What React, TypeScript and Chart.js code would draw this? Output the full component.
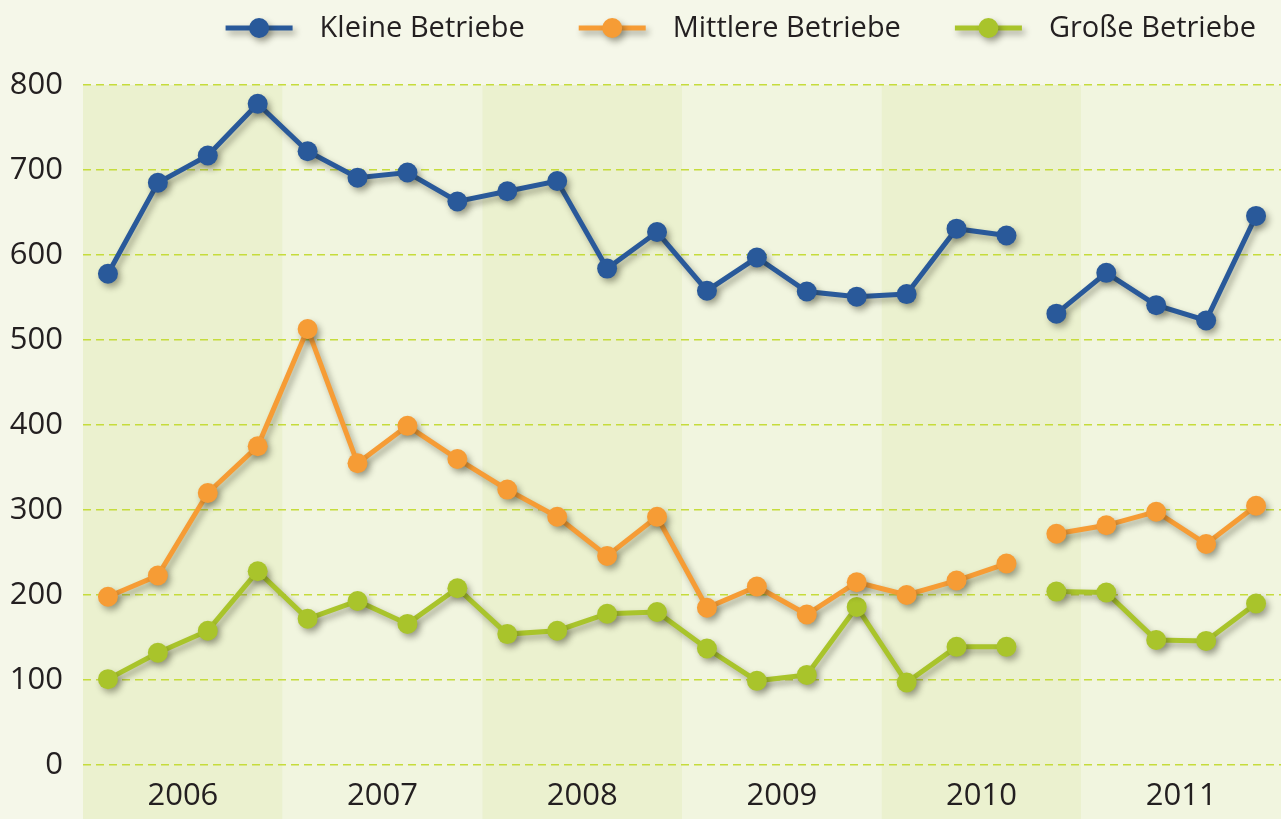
import React, { useEffect, useRef } from "react";
import { Chart, registerables } from "chart.js";

Chart.register(...registerables);

const years = ["2006", "2007", "2008", "2009", "2010", "2011"];
const quarters = ["Q1", "Q2", "Q3", "Q4"];
const categories = years.flatMap((y) => quarters.map((q) => `${y} ${q}`));

const kleine = [578, 685, 717, 778, 722, 691, 697, 663, 675, 687, 584, 627, 558, 597, 557, 551, 554, 631, 623, 531, 579, 541, 523, 646];
const mittlere = [198, 223, 320, 375, 513, 355, 399, 360, 324, 292, 246, 292, 185, 210, 177, 215, 200, 217, 237, 272, 282, 298, 260, 305];
const grosse = [101, 132, 158, 228, 172, 193, 166, 208, 154, 158, 178, 180, 137, 99, 106, 186, 97, 139, 139, 204, 203, 147, 146, 190];

const seriesNames = ["Kleine Betriebe", "Mittlere Betriebe", "Große Betriebe"];
const seriesColors = ["#29599a", "#f69c35", "#a9c42b"];
const breakAfterIndex = 18;

const yTicks = [0, 100, 200, 300, 400, 500, 600, 700, 800];

const FONT = "'Open Sans', sans-serif";

const bgPlugin = {
  id: "bgBands",
  beforeDraw(chart: any) {
    const { ctx, chartArea, scales } = chart;
    ctx.save();
    ctx.fillStyle = "#f5f7e9";
    ctx.fillRect(0, 0, chart.width, chart.height);
    const xs = scales.x;
    const step = xs.getPixelForValue(1) - xs.getPixelForValue(0);
    years.forEach((_, i) => {
      const x0 = xs.getPixelForValue(i * 4) - step / 2;
      ctx.fillStyle = i % 2 === 0 ? "#ebf1cf" : "#f1f5df";
      ctx.fillRect(x0, chartArea.top, step * 4, chart.height - chartArea.top);
    });
    ctx.restore();
  },
};

const shadowPlugin = {
  id: "shadow",
  beforeDatasetsDraw(chart: any) {
    const ctx = chart.ctx;
    ctx.save();
    ctx.shadowColor = "rgba(40,40,20,0.38)";
    ctx.shadowBlur = 6;
    ctx.shadowOffsetX = 3;
    ctx.shadowOffsetY = 4;
  },
  afterDatasetsDraw(chart: any) {
    chart.ctx.restore();
  },
};

const legendPlugin = {
  id: "customLegend",
  afterDraw(chart: any) {
    const ctx = chart.ctx;
    ctx.save();
    ctx.font = `29px ${FONT}`;
    ctx.textBaseline = "middle";
    const lineLen = 67;
    const gap = 27;
    const spacing = 54;
    const y = 28;
    const widths = chart.data.datasets.map((d: any) => ctx.measureText(d.label).width);
    let total = 0;
    widths.forEach((w: number, i: number) => {
      total += lineLen + gap + w + (i > 0 ? spacing : 0);
    });
    let x = 1256 - total;
    chart.data.datasets.forEach((d: any, i: number) => {
      if (i > 0) x += spacing;
      ctx.save();
      ctx.shadowColor = "rgba(40,40,20,0.38)";
      ctx.shadowBlur = 6;
      ctx.shadowOffsetX = 3;
      ctx.shadowOffsetY = 4;
      ctx.strokeStyle = d.borderColor;
      ctx.lineWidth = 5;
      ctx.beginPath();
      ctx.moveTo(x, y);
      ctx.lineTo(x + lineLen, y);
      ctx.stroke();
      ctx.fillStyle = d.borderColor;
      ctx.beginPath();
      ctx.arc(x + lineLen / 2, y, 10, 0, Math.PI * 2);
      ctx.fill();
      ctx.restore();
      x += lineLen + gap;
      ctx.fillStyle = "#231f20";
      ctx.textAlign = "left";
      ctx.fillText(d.label, x, y + 1);
      x += widths[i];
    });
    ctx.restore();
  },
};

export default function App() {
  const ref = useRef<HTMLCanvasElement | null>(null);

  useEffect(() => {
    if (!ref.current) return;
    const mk = (label: string, data: number[], color: string) => ({
      label,
      data,
      borderColor: color,
      backgroundColor: color,
      pointBackgroundColor: color,
      pointBorderWidth: 0,
      pointRadius: 10,
      borderWidth: 5,
      tension: 0,
      fill: false,
      clip: false,
      segment: {
        borderColor: (c: any) => (c.p0DataIndex === breakAfterIndex ? "rgba(0,0,0,0)" : undefined),
      },
    });
    const chart = new Chart(ref.current, {
      type: "line",
      data: {
        labels: categories,
        datasets: [
          mk(seriesNames[0], kleine, seriesColors[0]),
          mk(seriesNames[1], mittlere, seriesColors[1]),
          mk(seriesNames[2], grosse, seriesColors[2]),
        ],
      },
      options: {
        responsive: false,
        animation: false,
        devicePixelRatio: 1,
        layout: { autoPadding: false, padding: { top: 85, right: 0, left: 0, bottom: 0 } },
        plugins: {
          legend: { display: false },
          tooltip: { enabled: false },
        },
        scales: {
          x: {
            type: "category",
            offset: true,
            grid: { display: false, drawTicks: false },
            border: { display: false },
            afterFit: (s: any) => {
              s.height = 54;
              s.paddingLeft = 0;
              s.paddingRight = 0;
            },
            ticks: {
              autoSkip: false,
              maxRotation: 0,
              minRotation: 0,
              padding: 13,
              labelOffset: 25,
              color: "#231f20",
              font: { family: FONT, size: 31 },
              callback: (_v: any, i: number) => (i % 4 === 1 ? years[Math.floor(i / 4)] : ""),
            },
          },
          y: {
            min: yTicks[0],
            max: yTicks[yTicks.length - 1],
            afterFit: (s: any) => {
              s.width = 83;
            },
            afterBuildTicks: (s: any) => {
              s.ticks = yTicks.map((v) => ({ value: v }));
            },
            grid: { color: "#c6dc3c", lineWidth: 1.5, drawTicks: false },
            border: { display: false, dash: [8, 5] },
            ticks: {
              padding: 20,
              color: "#231f20",
              font: { family: FONT, size: 31 },
            },
          },
        },
      },
      plugins: [bgPlugin, shadowPlugin, legendPlugin],
    });
    return () => chart.destroy();
  }, []);

  return (
    <div style={{ position: "fixed", left: 0, top: 0, width: 1281, height: 819 }}>
      <canvas ref={ref} width={1281} height={819} style={{ display: "block" }} />
    </div>
  );
}
